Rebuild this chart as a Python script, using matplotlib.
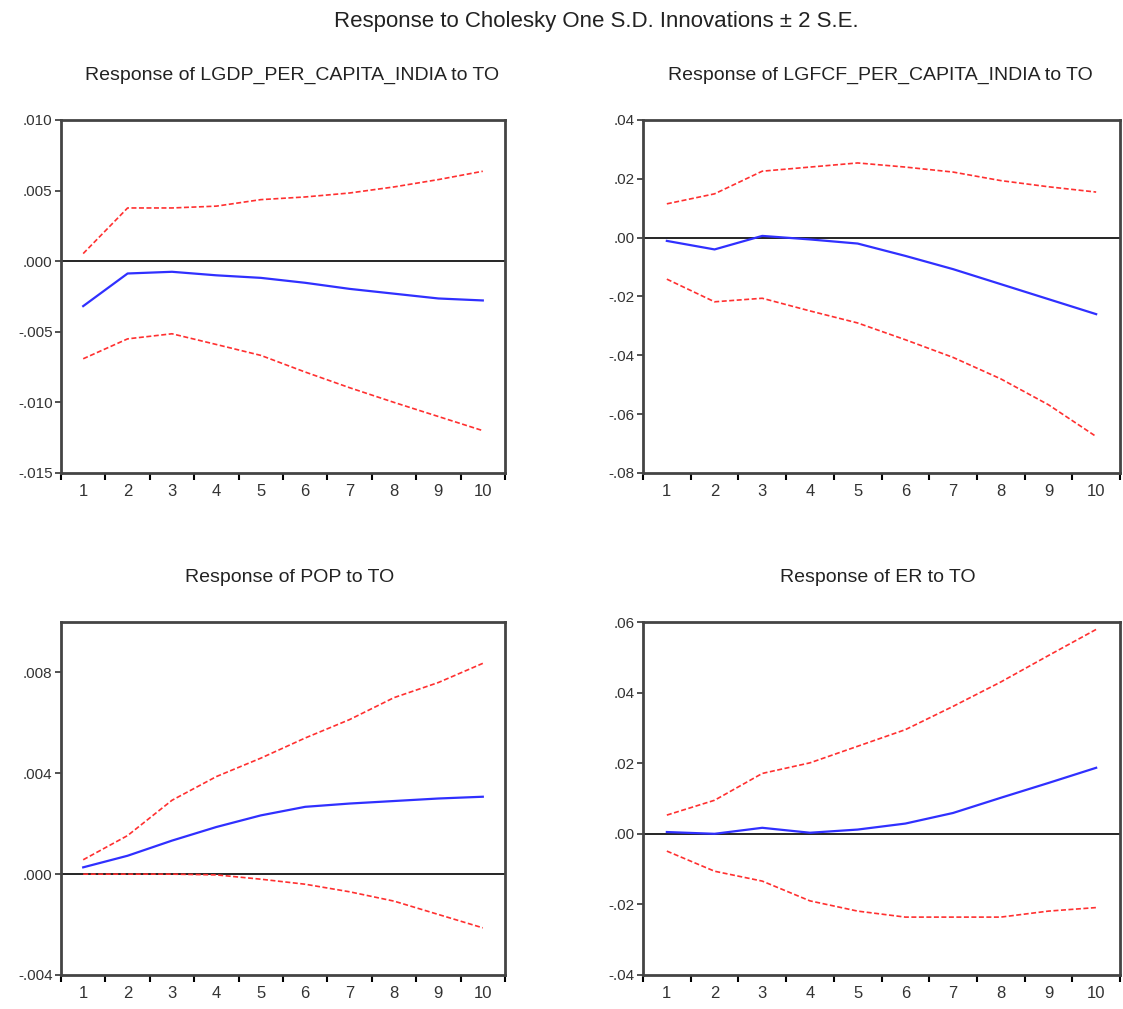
import matplotlib
matplotlib.use("Agg")
import matplotlib.pyplot as plt
from matplotlib.ticker import FuncFormatter

plt.rcParams["font.family"] = ["Liberation Sans", "DejaVu Sans"]

periods = list(range(1, 11))

# Response of LGDP_PER_CAPITA_INDIA to TO
gdp_resp = [-0.00318, -0.00087, -0.00075, -0.0010, -0.00118, -0.00153, -0.00196, -0.0023, -0.00264, -0.00278]
gdp_up = [0.00054, 0.00377, 0.00377, 0.0039, 0.00436, 0.00455, 0.00483, 0.00526, 0.00578, 0.00637]
gdp_lo = [-0.00691, -0.0055, -0.00514, -0.0059, -0.00667, -0.00785, -0.00896, -0.0100, -0.0110, -0.0120]

# Response of LGFCF_PER_CAPITA_INDIA to TO
gfcf_resp = [-0.0011, -0.0040, 0.0006, -0.0006, -0.0020, -0.0062, -0.0107, -0.0158, -0.0209, -0.0260]
gfcf_up = [0.0115, 0.0149, 0.0226, 0.0240, 0.0254, 0.0240, 0.0223, 0.0194, 0.0173, 0.0155]
gfcf_lo = [-0.0141, -0.0218, -0.0206, -0.0249, -0.0290, -0.0347, -0.0407, -0.0480, -0.0568, -0.0676]

# Response of POP to TO
pop_resp = [0.00027, 0.00073, 0.00133, 0.00187, 0.00233, 0.00267, 0.0028, 0.0029, 0.0030, 0.00307]
pop_up = [0.00057, 0.00153, 0.00293, 0.00387, 0.0046, 0.0054, 0.00613, 0.0070, 0.0076, 0.00836]
pop_lo = [0.0, 0.0, 0.0, -0.00003, -0.0002, -0.0004, -0.0007, -0.00107, -0.0016, -0.00213]

# Response of ER to TO
er_resp = [0.0005, 0.0, 0.0017, 0.0003, 0.0012, 0.0029, 0.0059, 0.0102, 0.0144, 0.0187]
er_up = [0.0053, 0.0095, 0.0171, 0.0201, 0.0248, 0.0295, 0.0361, 0.0430, 0.0505, 0.0579]
er_lo = [-0.0049, -0.0106, -0.0134, -0.0190, -0.0219, -0.0236, -0.0236, -0.0236, -0.0219, -0.0209]

gdp_ticks = [-0.015, -0.010, -0.005, 0.0, 0.005, 0.010]
gfcf_ticks = [-0.08, -0.06, -0.04, -0.02, 0.0, 0.02, 0.04]
pop_ticks = [-0.004, 0.0, 0.004, 0.008]
er_ticks = [-0.04, -0.02, 0.0, 0.02, 0.04, 0.06]

panels = [
    ("Response of LGDP_PER_CAPITA_INDIA to TO", gdp_resp, gdp_up, gdp_lo, (-0.015, 0.010), gdp_ticks, 3),
    ("Response of LGFCF_PER_CAPITA_INDIA to TO", gfcf_resp, gfcf_up, gfcf_lo, (-0.08, 0.04), gfcf_ticks, 2),
    ("Response of POP to TO", pop_resp, pop_up, pop_lo, (-0.004, 0.010), pop_ticks, 3),
    ("Response of ER to TO", er_resp, er_up, er_lo, (-0.04, 0.06), er_ticks, 2),
]

# axes boxes in pixels: left, top, right, bottom
W, H = 1123, 1009
boxes = [(61, 120, 505, 473), (643, 120, 1120, 473),
         (61, 622, 505, 975), (643, 622, 1120, 975)]
title_pos = [(292, 75), (880, 75), (290, 577), (878, 577)]


def make_fmt(dec):
    def f(v, pos):
        s = f"{abs(v):.{dec}f}".replace("0.", ".", 1)
        return "-" + s if v < -1e-12 else s
    return FuncFormatter(f)


fig = plt.figure(figsize=(W / 100, H / 100), dpi=100)
fig.text(596 / W, 1 - 22 / H, "Response to Cholesky One S.D. Innovations \u00b1 2 S.E.",
         ha="center", va="center", fontsize=16, color="#222222")

for i, (title, resp, up, lo, ylim, yt, dec) in enumerate(panels):
    l, t, r, b = boxes[i]
    ax = fig.add_axes([l / W, 1 - b / H, (r - l) / W, (b - t) / H])
    ax.axhline(0, color="black", lw=1.2, zorder=1)
    ax.plot(periods, up, color="#ff3030", ls=(0, (3, 1.5)), lw=1.2, zorder=2)
    ax.plot(periods, lo, color="#ff3030", ls=(0, (3, 1.5)), lw=1.2, zorder=2)
    ax.plot(periods, resp, color="#3030ff", lw=1.6, zorder=3)
    ax.set_yticks(yt)
    ax.set_ylim(*ylim)
    ax.yaxis.set_major_formatter(make_fmt(dec))
    ax.set_xticks([k + 0.5 for k in range(0, 11)])
    ax.set_xticklabels([])
    ax.set_xticks(periods, minor=True)
    ax.set_xticklabels([str(p) for p in periods], minor=True)
    ax.set_xlim(0.5, 10.5)
    ax.tick_params(axis="x", which="minor", length=0, pad=8, labelsize=12, colors="#333333")
    ax.tick_params(axis="x", which="major", length=5, width=1.5, direction="out")
    ax.tick_params(axis="y", length=4, width=1.2, labelsize=11, pad=2, colors="#333333")
    for sp in ax.spines.values():
        sp.set_linewidth(2)
        sp.set_color("#444444")
    tx, ty = title_pos[i]
    fig.text(tx / W, 1 - ty / H, title, ha="center", va="center",
             fontsize=14, color="#222222")

fig.savefig("out.png", dpi=100)
